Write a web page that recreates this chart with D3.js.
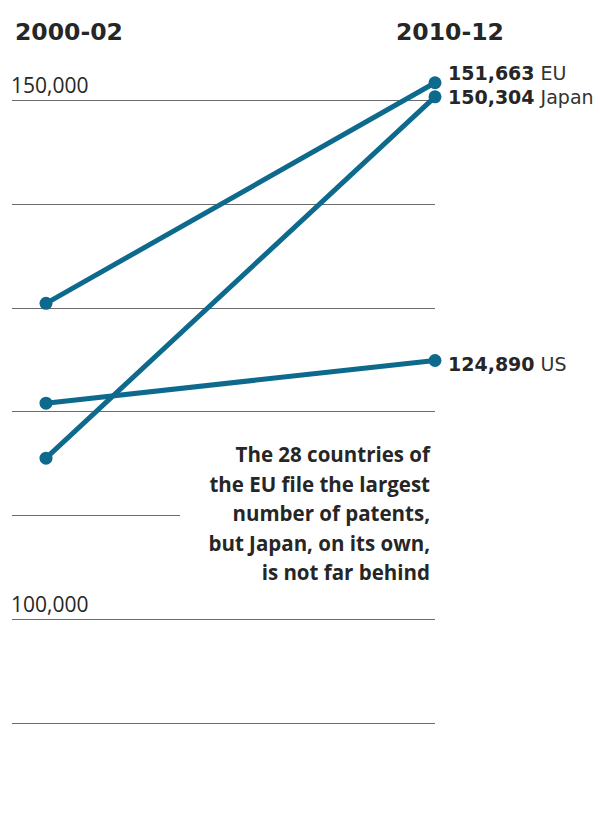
<!DOCTYPE html>
<html><head><meta charset="utf-8">
<script src="https://cdn.jsdelivr.net/npm/d3@7"></script>
<style>
body{margin:0;background:#fff;}
text{font-family:"Open Sans",sans-serif;fill:#262626;}
</style></head>
<body><svg id="c" width="600" height="823"></svg>
<script>
const periods = ["2000-02", "2010-12"];
const seriesNames = ["EU", "Japan", "US"];
const startValues = [130400, 115480, 120780];
const endValues = [151663, 150304, 124890];
const tickValues = [90000, 100000, 110000, 120000, 130000, 140000, 150000];
const labeledTicks = [100000, 150000];
const annotationLines = ["The 28 countries of", "the EU file the largest", "number of patents,", "but Japan, on its own,", "is not far behind"];

const svg = d3.select("#c");
const color = "#0e6a8d";
const x = d3.scalePoint().domain(periods).range([46, 435]);
const y = d3.scaleLinear().domain([90000, 150000]).range([722.5, 100]);
const fmt = d3.format(",");

// gridlines
svg.append("g").selectAll("line").data(tickValues).join("line")
  .attr("x1", 12)
  .attr("x2", d => d === 110000 ? 180 : 435)
  .attr("y1", d => Math.round(y(d)) + 0.5)
  .attr("y2", d => Math.round(y(d)) + 0.5)
  .attr("stroke", "#6b6b6b").attr("stroke-width", 1);

svg.append("g").selectAll("text").data(labeledTicks).join("text")
  .attr("x", 11).attr("y", d => y(d) - 7)
  .attr("font-size", 21).attr("font-weight", 400)
  .attr("fill", "#333")
  .text(d => fmt(d));

// headers
svg.append("g").selectAll("text").data(periods).join("text")
  .attr("x", (d, i) => i === 0 ? 15 : 396).attr("y", 40)
  .style("font-family", "'DejaVu Sans', sans-serif")
  .attr("font-size", 23.5).attr("font-weight", 700)
  .text(d => d);

// lines
const data = seriesNames.map((n, i) => ({name: n, a: startValues[i], b: endValues[i]}));
svg.append("g").selectAll("line").data(data).join("line")
  .attr("x1", x(periods[0])).attr("x2", x(periods[1]))
  .attr("y1", d => y(d.a)).attr("y2", d => y(d.b))
  .attr("stroke", color).attr("stroke-width", 5).attr("stroke-linecap", "round");

const dots = [];
data.forEach(d => { dots.push([periods[0], d.a]); dots.push([periods[1], d.b]); });
svg.append("g").selectAll("circle").data(dots).join("circle")
  .attr("cx", d => x(d[0])).attr("cy", d => y(d[1])).attr("r", 6.5)
  .attr("fill", color);

// end labels
const labelY = {EU: 80, Japan: 104, US: 371};
const lab = svg.append("g").selectAll("text").data(data).join("text")
  .attr("x", 448).attr("y", d => labelY[d.name])
  .style("font-family", "'DejaVu Sans', sans-serif")
  .attr("font-size", 19);
lab.append("tspan").attr("font-weight", 700).text(d => fmt(d.b));
lab.append("tspan").attr("font-weight", 400).attr("fill", "#333").text(d => " " + d.name);

// annotation
svg.append("g").selectAll("text").data(annotationLines).join("text")
  .attr("x", 430).attr("y", (d, i) => 462 + i * 29.5)
  .attr("text-anchor", "end")
  .attr("font-size", 20.5).attr("font-weight", 700)
  .text(d => d);
</script></body></html>
